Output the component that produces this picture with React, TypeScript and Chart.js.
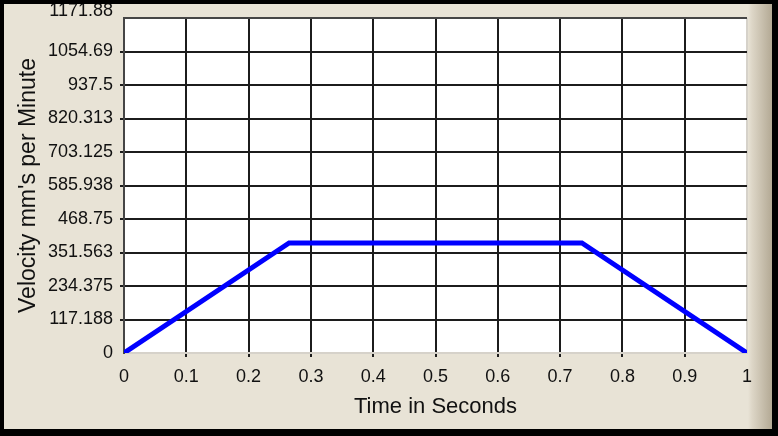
import React, { useEffect, useRef } from "react";
import { Chart, registerables } from "chart.js";

Chart.register(...registerables);

const timeValues = [0, 0.265, 0.735, 1];
const velocityValues = [0, 385, 385, 0];

const xTickValues = [0, 0.1, 0.2, 0.3, 0.4, 0.5, 0.6, 0.7, 0.8, 0.9, 1];
const xTickLabels = ["0", "0.1", "0.2", "0.3", "0.4", "0.5", "0.6", "0.7", "0.8", "0.9", "1"];

const yTickValues = [0, 117.188, 234.375, 351.563, 468.75, 585.938, 703.125, 820.313, 937.5, 1054.69, 1171.88];
const yTickLabels = ["0", "117.188", "234.375", "351.563", "468.75", "585.938", "703.125", "820.313", "937.5", "1054.69", "1171.88"];

const xTitle = "Time in Seconds";
const yTitle = "Velocity mm's per Minute";

const FONT = "'Liberation Sans', Arial, sans-serif";
const GRID = "#1c1c1c";
const DARK_EDGE = "#454545";
const LIGHT_EDGE = "#d6d2ca";

const plotBackground = {
  id: "plotBackground",
  beforeDraw(chart: any) {
    const { ctx, chartArea } = chart;
    if (!chartArea) return;
    ctx.save();
    ctx.fillStyle = "#ffffff";
    ctx.fillRect(chartArea.left, chartArea.top, chartArea.right - chartArea.left, chartArea.bottom - chartArea.top);
    ctx.restore();
  },
};

export default function App() {
  const canvasRef = useRef<HTMLCanvasElement | null>(null);

  useEffect(() => {
    document.body.style.margin = "0";
    const canvas = canvasRef.current;
    if (!canvas) return;
    const chart = new Chart(canvas, {
      type: "line",
      data: {
        datasets: [
          {
            data: timeValues.map((t, i) => ({ x: t, y: velocityValues[i] })),
            borderColor: "#0000ff",
            backgroundColor: "#0000ff",
            borderWidth: 5,
            pointRadius: 0,
            tension: 0,
            fill: false,
          },
        ],
      },
      plugins: [plotBackground],
      options: {
        responsive: false,
        animation: false,
        events: [],
        layout: { padding: { top: 18, right: 31, bottom: 0, left: 0 } },
        plugins: { legend: { display: false }, tooltip: { enabled: false } },
        scales: {
          x: {
            type: "linear",
            min: 0,
            max: 1,
            afterBuildTicks: (scale: any) => {
              scale.ticks = xTickValues.map((value) => ({ value }));
            },
            afterFit: (scale: any) => {
              scale.height = 83;
              scale.paddingLeft = 0;
              scale.paddingRight = 0;
            },
            grid: {
              lineWidth: 2,
              tickLength: 4,
              color: (ctx: any) => {
                const v = ctx.tick ? ctx.tick.value : null;
                if (v === 0) return DARK_EDGE;
                if (v === 1) return LIGHT_EDGE;
                return GRID;
              },
              tickColor: (ctx: any) => {
                const v = ctx.tick ? ctx.tick.value : null;
                if (v === 0 || v === 1) return "rgba(0,0,0,0)";
                return GRID;
              },
            },
            border: { display: true, color: LIGHT_EDGE, width: 2 },
            ticks: {
              autoSkip: false,
              maxRotation: 0,
              minRotation: 0,
              padding: 9,
              color: "#111",
              font: { family: FONT, size: 18 },
              callback: (_v: any, i: number) => xTickLabels[i],
            },
            title: {
              display: true,
              text: xTitle,
              color: "#111",
              font: { family: FONT, size: 22 },
              padding: { top: 0, bottom: 16 },
            },
          },
          y: {
            type: "linear",
            min: 0,
            max: 1171.88,
            afterBuildTicks: (scale: any) => {
              scale.ticks = yTickValues.map((value) => ({ value }));
            },
            afterFit: (scale: any) => {
              scale.width = 124;
              scale.paddingTop = 0;
              scale.paddingBottom = 0;
            },
            grid: {
              lineWidth: 2,
              tickLength: 4,
              color: (ctx: any) => {
                const i = ctx.index;
                if (i === 0) return LIGHT_EDGE;
                if (i === yTickValues.length - 1) return DARK_EDGE;
                return GRID;
              },
              tickColor: (ctx: any) => {
                const i = ctx.index;
                if (i === 0 || i === yTickValues.length - 1) return "rgba(0,0,0,0)";
                return GRID;
              },
            },
            border: { display: true, color: DARK_EDGE, width: 2 },
            ticks: {
              autoSkip: false,
              padding: 7,
              color: "#111",
              font: { family: FONT, size: 18, lineHeight: 0.72 },
              callback: (_v: any, i: number) =>
                i === yTickLabels.length - 1 ? [yTickLabels[i], ""] : yTickLabels[i],
            },
            title: {
              display: true,
              text: yTitle,
              color: "#111",
              font: { family: FONT, size: 23 },
              padding: { top: 15, bottom: 0 },
            },
          },
        },
      },
    });
    return () => chart.destroy();
  }, []);

  return (
    <div
      style={{
        position: "relative",
        width: 778,
        height: 436,
        background:
          "linear-gradient(to right, #e8e3d6 0px, #e8e3d6 748px, #ddd6c7 752px, #b3a994 772px, #b3a994 778px)",
      }}
    >
      <canvas
        ref={canvasRef}
        width={778}
        height={436}
        style={{ position: "absolute", left: 0, top: 0, width: 778, height: 436 }}
      />
      <div
        style={{
          position: "absolute",
          left: 0,
          top: 0,
          width: 778,
          height: 436,
          boxSizing: "border-box",
          borderStyle: "solid",
          borderColor: "#000",
          borderWidth: "4px 6px 7px 4px",
          pointerEvents: "none",
        }}
      />
    </div>
  );
}
